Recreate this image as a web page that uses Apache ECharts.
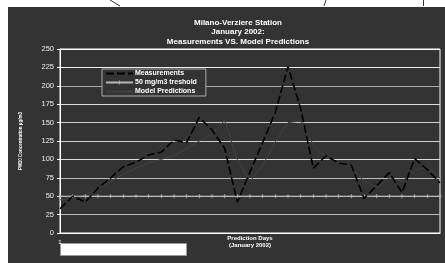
<!DOCTYPE html>
<html>
<head>
<meta charset="utf-8">
<script src="https://cdn.jsdelivr.net/npm/echarts@6/dist/echarts.min.js"></script>
<style>
    html, body { margin: 0; padding: 0; background: #fff; }
    #chart { width: 445px; height: 263px; }
</style>
</head>
<body>
<div id="chart"></div>
<script>
    // January 2002, days 1..31
    var days = []
    for (var d = 1; d <= 31; d++) days.push(String(d))

    var measurements = [33, 50, 42, 61, 75, 90, 96, 106, 110, 126, 123, 157, 140, 115, 42,
        83, 123, 164, 226, 169, 88, 105, 95, 92, 47, 64, 82, 55, 101, 86, 68]
    var threshold = [50, 50, 50, 50, 50, 50, 50, 50, 50, 50, 50, 50, 50, 50, 50,
        50, 50, 50, 50, 50, 50, 50, 50, 50, 50, 50, 50, 50, 50, 50, 50]
    var predictions = [45, 48, 52, 60, 70, 80, 88, 95, 100, 105, 115, 125, 135, 153, 100,
        70, 92, 124, 150, 152, 120, 103, 95, 90, 70, 62, 75, 70, 85, 90, 75]
    var yTicks = [0, 25, 50, 75, 100, 125, 150, 175, 200, 225, 250]

    var chart = echarts.init(document.getElementById('chart'))
    var font = 'Liberation Sans, Arial, sans-serif'

    chart.setOption({
        animation: false,
        textStyle: { fontFamily: font },
        graphic: [
            { type: 'rect', z: -10, shape: { x: 8, y: 7, width: 437, height: 256 }, style: { fill: '#333333' } },
            { type: 'rect', shape: { x: 60.5, y: 243.5, width: 126, height: 12 }, style: { fill: '#fff', stroke: '#999', lineWidth: 1 } },
            { type: 'line', shape: { x1: 110, y1: 0, x2: 120, y2: 6 }, style: { stroke: '#333', lineWidth: 1 } },
            { type: 'line', shape: { x1: 326, y1: 0, x2: 324, y2: 6 }, style: { stroke: '#333', lineWidth: 1 } },
            { type: 'line', shape: { x1: 423.5, y1: 0, x2: 423.5, y2: 6 }, style: { stroke: '#333', lineWidth: 1 } },
            {
                type: 'text', x: 238, y: 18,
                style: {
                    text: 'Milano-Verziere Station\nJanuary 2002:\nMeasurements VS. Model Predictions',
                    fill: '#fff', font: 'bold 8px ' + font, align: 'center', lineHeight: 9.5
                }
            }
        ],
        grid: {
            left: 60, right: 5, top: 49, bottom: 30,
            outerBoundsMode: 'none', containLabel: false,
            show: true, borderColor: '#fff', borderWidth: 1, backgroundColor: 'transparent'
        },
        legend: {
            orient: 'vertical', left: 102, top: 69,
            itemWidth: 27, itemHeight: 5, itemGap: 2,
            padding: [1, 9, 1, 3],
            borderColor: '#aaa', borderWidth: 1, backgroundColor: '#333',
            textStyle: { color: '#fff', fontSize: 7, fontWeight: 'bold', fontFamily: font, padding: [0, 0, 0, -3] },
            data: [
                { name: 'Measurements', itemStyle: { opacity: 0 } },
                { name: '50 mg/m3 treshold' },
                { name: 'Model Predictions', itemStyle: { opacity: 0 } }
            ]
        },
        xAxis: {
            type: 'category', data: days, boundaryGap: false,
            name: 'Prediction Days\n(January 2002)', nameLocation: 'middle', nameGap: 2,
            nameMoveOverlap: false,
            nameTextStyle: { color: '#fff', fontSize: 6, fontWeight: 'bold', lineHeight: 7 },
            axisLine: { lineStyle: { color: '#fff', width: 1 } },
            axisTick: { show: false },
            axisLabel: {
                color: '#fff', fontSize: 6, margin: 6,
                formatter: function (v, i) { return i === 0 ? v : '' },
                interval: 0
            },
            splitLine: { show: false }
        },
        yAxis: {
            type: 'value', min: yTicks[0], max: yTicks[yTicks.length - 1], interval: 25,
            name: 'PM10 Concentration µg/m3', nameLocation: 'middle', nameGap: 37, nameRotate: 90,
            nameMoveOverlap: false,
            nameTextStyle: { color: '#fff', fontSize: 4.5, fontWeight: 'bold' },
            axisLine: { show: true, lineStyle: { color: '#fff', width: 1 } },
            axisTick: { show: true, length: 3, lineStyle: { color: '#fff' } },
            axisLabel: { color: '#eee', fontSize: 7.5, margin: 6 },
            splitLine: { lineStyle: { color: ['#fff', '#bbb', '#bbb', '#bbb', '#ddd', '#ccc', '#ccc', '#ddd', '#aaa', '#eee', '#fff'], width: 1 } }
        },
        series: [
            {
                name: 'Measurements', type: 'line', data: measurements,
                symbol: 'none', z: 5,
                lineStyle: { color: '#000', width: 1.6, type: [8, 3] },
                itemStyle: { color: '#000' }
            },
            {
                name: '50 mg/m3 treshold', type: 'line', data: threshold,
                symbol: 'path://M4,0H6V4H10V6H6V10H4V6H0V4H4Z', symbolSize: 4, z: 4,
                lineStyle: { color: '#b8b8b8', width: 1 },
                itemStyle: { color: '#b8b8b8' }
            },
            {
                name: 'Model Predictions', type: 'line', data: predictions,
                symbol: 'none', z: 3,
                lineStyle: { color: '#424242', width: 1 },
                itemStyle: { color: '#424242' }
            }
        ]
    })
</script>
</body>
</html>
